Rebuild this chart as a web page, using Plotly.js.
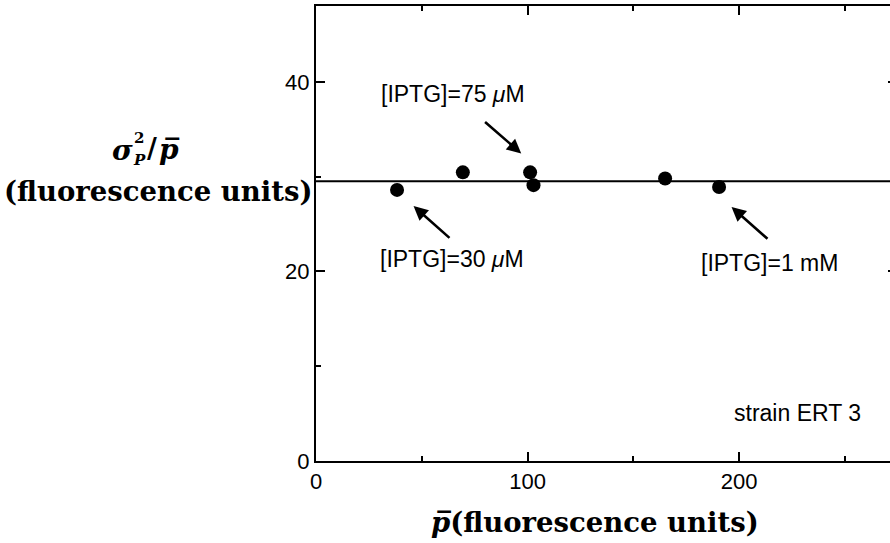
<!DOCTYPE html>
<html>
<head>
<meta charset="utf-8">
<script src="https://cdn.plot.ly/plotly-3.0.1.min.js"></script>
<style>
html,body{margin:0;padding:0;overflow:hidden;background:#fff;}
#chart{width:899px;height:543px;}
</style>
</head>
<body>
<div id="chart"></div>
<script>
// ---- data ----
var meanP = [38.3, 69.4, 101.2, 102.8, 165.0, 190.5];
var fano  = [28.6, 30.45, 30.45, 29.1, 29.8, 28.9];
var fitLevel = 29.5;
var xRange = [0, 274.6];
var yRange = [0, 48];
var xTickVals = [0, 100, 200];
var yTickVals = [0, 20, 40];
var labelTexts = ['[IPTG]=75 <i>\u03bc</i>M', '[IPTG]=30 <i>\u03bc</i>M', '[IPTG]=1 mM', 'strain ERT 3'];
var labelX = [30.4, 29.9, 181.5, 197.1];
var labelY = [38.7, 21.3, 20.9, 5.06];
// arrows: head (x,y), tail (ax,ay) in data units
var arrowHeadX = [97.0, 46.1, 196.4];
var arrowHeadY = [32.45, 26.9, 26.8];
var arrowTailX = [79.2, 63.8, 214.1];
var arrowTailY = [35.9, 23.4, 23.3];

// ---- layout helpers (pixel -> paper) ----
var W = 899;
var L = 315.7, R = 897, T = 6, B = 461;
function px(x){ return (x - L) / (R - L); }
function py(y){ return (B - y) / (B - T); }

var tickFont = {family: 'Liberation Sans, Arial, sans-serif', size: 22, color: '#000'};
var annFont = {family: 'Liberation Sans, Arial, sans-serif', size: 23, color: '#000'};
var serifB = {family: 'DejaVu Serif', size: 27.5, color: '#000'};

var annotations = [];
for (var i = 0; i < labelTexts.length; i++) {
  annotations.push({xref:'x', yref:'y', x: labelX[i], y: labelY[i], text: labelTexts[i],
    showarrow:false, xanchor:'left', yanchor:'middle', font: annFont, borderpad:0});
}
for (var j = 0; j < arrowHeadX.length; j++) {
  annotations.push({xref:'x', yref:'y', axref:'x', ayref:'y', x: arrowHeadX[j], y: arrowHeadY[j],
    ax: arrowTailX[j], ay: arrowTailY[j], text:'', showarrow:true, arrowhead:2, arrowsize:1.1,
    arrowwidth:2.6, arrowcolor:'#000', standoff:0, startstandoff:0});
}
// y-axis title (math pieces)
annotations.push({xref:'paper', yref:'paper', x: px(122), y: py(150), text:'<b><i>\u03c3</i></b>',
  showarrow:false, xanchor:'center', yanchor:'middle', font:{family:'DejaVu Serif', size:28, color:'#000'}});
annotations.push({xref:'paper', yref:'paper', x: px(139), y: py(138), text:'<b>2</b>',
  showarrow:false, xanchor:'center', yanchor:'middle', borderpad:0, font:{family:'DejaVu Serif', size:15, color:'#000'}});
annotations.push({xref:'paper', yref:'paper', x: px(139), y: py(159.5), text:'<b><i>P</i></b>',
  showarrow:false, xanchor:'center', yanchor:'middle', borderpad:0, font:{family:'DejaVu Serif', size:15, color:'#000'}});
annotations.push({xref:'paper', yref:'paper', x: px(152), y: py(148), text:'<b>/</b>',
  showarrow:false, xanchor:'center', yanchor:'middle', font:{family:'DejaVu Serif', size:27, color:'#000'}});
annotations.push({xref:'paper', yref:'paper', x: px(169), y: py(149), text:'<b><i>p\u0305</i></b>',
  showarrow:false, xanchor:'center', yanchor:'middle', font:{family:'DejaVu Serif', size:28, color:'#000'}});
annotations.push({xref:'paper', yref:'paper', x: px(158.5), y: py(191), text:'<b>(fluorescence units)</b>',
  showarrow:false, xanchor:'center', yanchor:'middle', font: serifB});
// x-axis title
annotations.push({xref:'paper', yref:'paper', x: px(595), y: py(522), text:'<b><i>p\u0305</i>(fluorescence units)</b>',
  showarrow:false, xanchor:'center', yanchor:'middle', font: serifB});

var trace = {
  x: meanP, y: fano, type:'scatter', mode:'markers',
  marker:{color:'#000', size:14, line:{width:0}},
  cliponaxis:false, showlegend:false, hoverinfo:'skip'
};

var axisCommon = {
  showline:true, linecolor:'#000', linewidth:2, mirror:'ticks',
  ticks:'inside', ticklen:9, tickwidth:2, tickcolor:'#000',
  showgrid:false, zeroline:false, tickfont: tickFont, fixedrange:true
};

var layout = {
  width: W, height: 543,
  margin:{l:L, r:W-R, t:T, b:543-B, pad:0},
  paper_bgcolor:'#fff', plot_bgcolor:'#fff',
  xaxis: Object.assign({}, axisCommon, {range:xRange, tickmode:'array', tickvals:xTickVals,
    ticktext: xTickVals.map(String),
    minor:{tickvals:[50,150,250], ticks:'inside', ticklen:5, tickwidth:2, tickcolor:'#000', showgrid:false}}),
  yaxis: Object.assign({}, axisCommon, {range:yRange, tickmode:'array', tickvals:yTickVals,
    ticktext: yTickVals.map(String),
    minor:{tickvals:[10,30], ticks:'inside', ticklen:5, tickwidth:2, tickcolor:'#000', showgrid:false}}),
  shapes:[{type:'line', xref:'paper', yref:'y', x0:0, x1:1, y0:fitLevel, y1:fitLevel,
    line:{color:'#000', width:2}}],
  annotations: annotations
};

Plotly.newPlot('chart', [trace], layout, {staticPlot:true, displayModeBar:false});
</script>
</body>
</html>
